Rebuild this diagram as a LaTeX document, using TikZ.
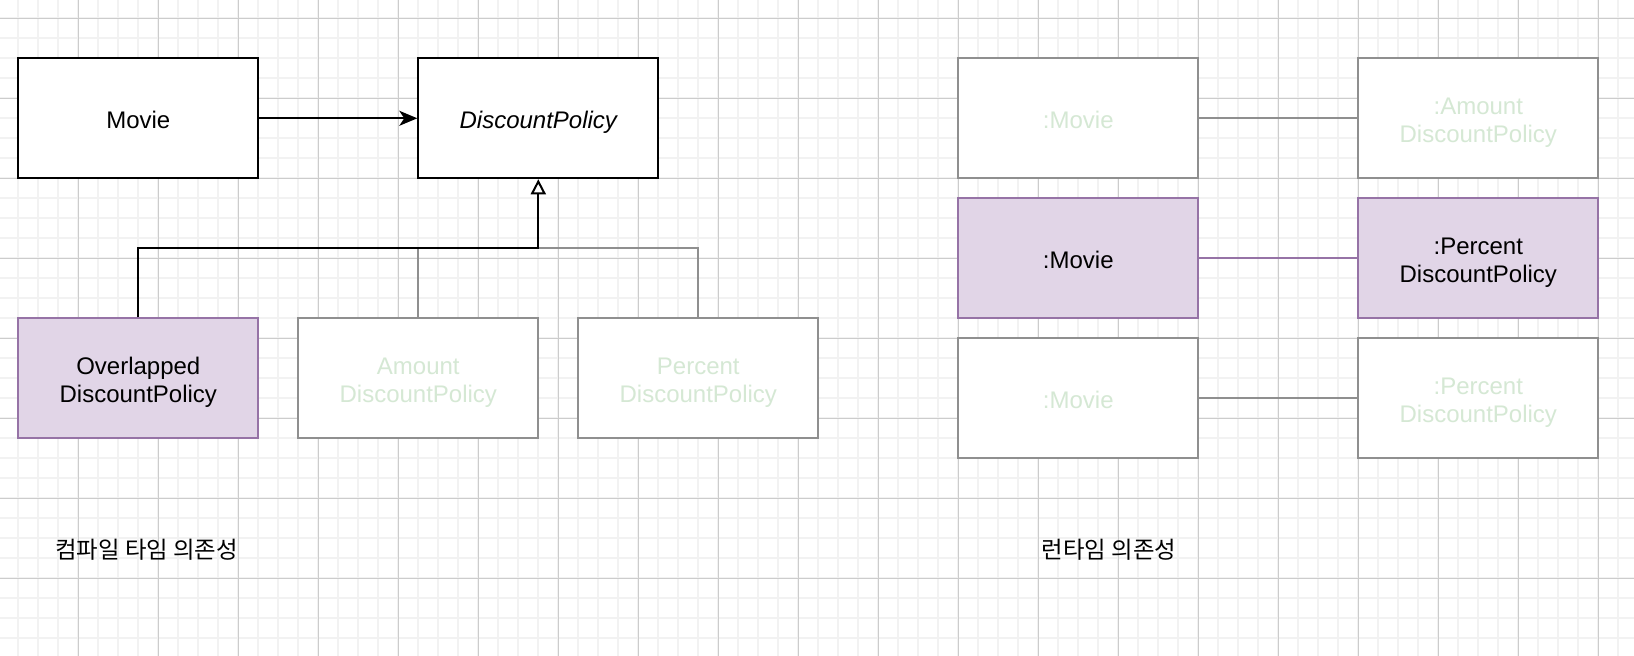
\documentclass[tikz,border=0pt]{standalone}
\usepackage{fontspec}
\setmainfont{Liberation Sans}
\newfontfamily\cjk{Noto Sans CJK KR}
\usetikzlibrary{arrows.meta}
\definecolor{gridminor}{HTML}{F2F2F2}
\definecolor{gridmajor}{HTML}{CCCCCC}
\definecolor{boxgray}{HTML}{8F8F8F}
\definecolor{fadegreen}{HTML}{D5E8D4}
\definecolor{purplestroke}{HTML}{9673A6}
\definecolor{purplefill}{HTML}{E1D5E7}
\tikzset{
  box/.style={rectangle, line width=1pt, minimum width=120pt, minimum height=60pt, inner sep=0pt},
  blackbox/.style={box, draw=black, fill=white},
  graybox/.style={box, draw=boxgray, fill=white},
  purplebox/.style={box, draw=purplestroke, fill=purplefill},
  txt/.style={align=center, inner sep=0pt, font=\fontsize{12pt}{14pt}\selectfont, text=black},
  fadetxt/.style={txt, text=fadegreen},
  blkline/.style={line width=1pt, draw=black},
  grayline/.style={line width=1pt, draw=boxgray},
  purpleline/.style={line width=1pt, draw=purplestroke},
  lbl/.style={inner sep=0pt, font=\cjk\fontsize{11.7pt}{14pt}\selectfont, text=black}
}
\begin{document}
\begin{tikzpicture}[x=0.5pt, y=-0.5pt]
\useasboundingbox (0,0) rectangle (1634,656);
\fill[white] (0,0) rectangle (1634,656);
% grid
\foreach \i in {0,...,81} {
  \draw[gridminor, line width=1pt] ({18.3+20*\i},0) -- ({18.3+20*\i},656);
}
\foreach \j in {0,...,31} {
  \draw[gridminor, line width=1pt] (0,{18.3+20*\j}) -- (1634,{18.3+20*\j});
}
\foreach \i in {0,...,20} {
  \draw[gridmajor, line width=0.5pt] ({78.3+80*\i},0) -- ({78.3+80*\i},656);
}
\foreach \j in {0,...,7} {
  \draw[gridmajor, line width=0.5pt] (0,{18.3+80*\j}) -- (1634,{18.3+80*\j});
}
% left: compile-time
\node[blackbox] (movie) at (138.3,118.3) {};
\node[blackbox] (dp) at (538.3,118.3) {};
\node[purplebox] (over) at (138.3,378.3) {};
\node[graybox] (amount) at (418.3,378.3) {};
\node[graybox] (percent) at (698.3,378.3) {};
\node[txt] (movie-t) at ([yshift=-1pt]movie.center) {Movie};
\node[txt] (dp-t) at ([yshift=-2pt]dp.center) {\itshape DiscountPolicy};
\node[txt] (over-t) at ([yshift=-2pt]over.center) {Overlapped\\DiscountPolicy};
\node[fadetxt] (amount-t) at ([yshift=-2pt]amount.center) {Amount\\DiscountPolicy};
\node[fadetxt] (percent-t) at ([yshift=-2pt]percent.center) {Percent\\DiscountPolicy};
\coordinate (j) at (538.3,248.3);
\draw[blkline, -{Stealth[length=9pt, width=7.5pt, inset=2.5pt]}] (movie) -- (dp);
\draw[grayline] (amount.north) |- (j);
\draw[grayline] (percent.north) |- (j);
\draw[blkline, -{Triangle[open, length=7.5pt, width=7.5pt, fill=white]}] (over.north) |- (j) -- (dp.south);
% right: runtime
\node[graybox] (rm1) at (1078.3,118.3) {};
\node[purplebox] (rm2) at (1078.3,258.3) {};
\node[graybox] (rm3) at (1078.3,398.3) {};
\node[graybox] (rp1) at (1478.3,118.3) {};
\node[purplebox] (rp2) at (1478.3,258.3) {};
\node[graybox] (rp3) at (1478.3,398.3) {};
\node[fadetxt] (rm1-t) at ([yshift=-1pt]rm1.center) {:Movie};
\node[txt] (rm2-t) at ([yshift=-1pt]rm2.center) {:Movie};
\node[fadetxt] (rm3-t) at ([yshift=-1pt]rm3.center) {:Movie};
\node[fadetxt] (rp1-t) at ([yshift=-2pt]rp1.center) {:Amount\\DiscountPolicy};
\node[txt] (rp2-t) at ([yshift=-2pt]rp2.center) {:Percent\\DiscountPolicy};
\node[fadetxt] (rp3-t) at ([yshift=-2pt]rp3.center) {:Percent\\DiscountPolicy};
\draw[grayline] (rm1) -- (rp1);
\draw[purpleline] (rm2) -- (rp2);
\draw[grayline] (rm3) -- (rp3);
% labels
\node[lbl] (l1) at (146.7,550) {컴파일 타임 의존성};
\node[lbl] (l2) at (1109,550) {런타임 의존성};
\end{tikzpicture}
\end{document}
